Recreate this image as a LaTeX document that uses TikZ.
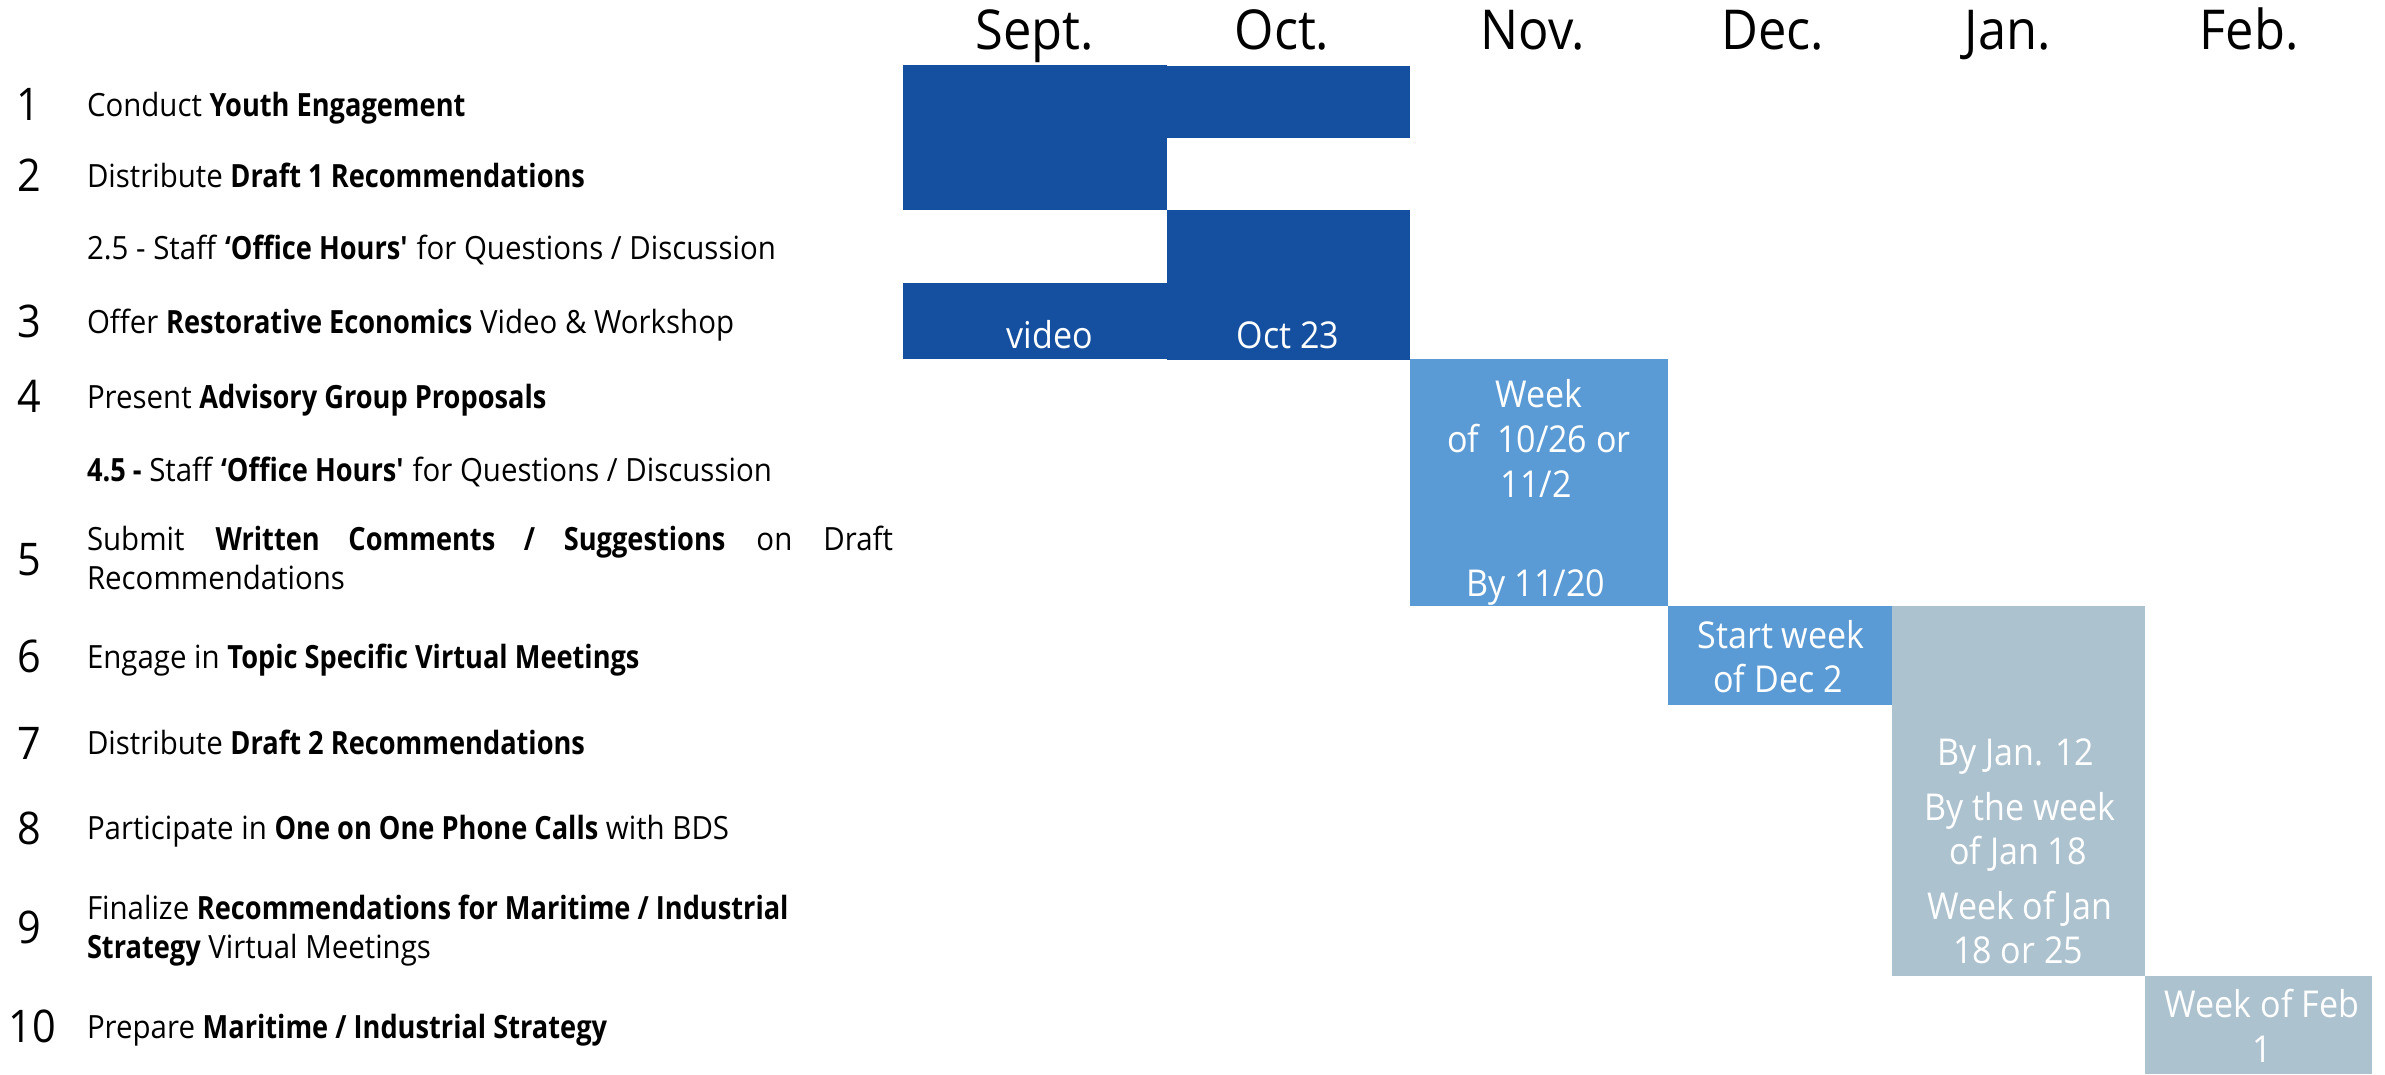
\documentclass[tikz,border=0pt]{standalone}
\usepackage{fontspec}
\setmainfont{Open Sans}[UprightFeatures={FakeStretch=0.92}, BoldFeatures={FakeStretch=0.85}]
\definecolor{dkblue}{RGB}{21,80,160}
\definecolor{mdblue}{RGB}{91,155,213}
\definecolor{gyblue}{RGB}{173,194,207}
\begin{document}
\begin{tikzpicture}[x=1pt,y=-1pt,
  every node/.style={inner sep=0pt, outer sep=0pt},
  task/.style={anchor=base west, font=\fontsize{32}{38}\selectfont},
  num/.style={anchor=base, font=\fontsize{45}{50}\selectfont},
  month/.style={anchor=base, font=\fontsize{55}{60}\selectfont},
  bar/.style={anchor=north west, draw=none},
  btext/.style={anchor=base, text=white, font=\fontsize{37}{45}\selectfont}]
\useasboundingbox[fill=white] (0,0) rectangle (2385,1074);

% month headers
\node[month] (msep) at (1035,49) {Sept.};
\node[month] (moct) at (1282,49) {Oct.};
\node[month] (mnov) at (1533,49) {Nov.};
\node[month] (mdec) at (1773,49) {Dec.};
\node[month] (mjan) at (2008,49) {Jan.};
\node[month] (mfeb) at (2249,49) {Feb.};

% bars
\node[bar, fill=dkblue, minimum width=264pt, minimum height=145pt] (bsep12) at (903,65) {};
\node[bar, fill=dkblue, minimum width=243pt, minimum height=72pt] (boct1) at (1167,66) {};
\node[bar, fill=dkblue, minimum width=243pt, minimum height=150pt] (boct3) at (1167,210) {};
\node[bar, fill=dkblue, minimum width=264pt, minimum height=76pt] (bsep3) at (903,283) {};
\node[bar, fill=mdblue, minimum width=258pt, minimum height=247pt] (bnov) at (1410,359) {};
\node[bar, fill=mdblue, minimum width=224pt, minimum height=99pt] (bdec) at (1668,606) {};
\node[bar, fill=gyblue, minimum width=253pt, minimum height=370pt] (bjan) at (1892,606) {};
\node[bar, fill=gyblue, minimum width=227pt, minimum height=98pt] (bfeb) at (2145,976) {};

% bar texts
\node[btext] (tvideo) at (1050,348) {video};
\node[btext] (toct) at (1288,348) {Oct 23};
\node[btext] (tnov1) at (1539,407) {Week};
\node[btext] (tnov2) at (1539,452) {of~ 10/26 or};
\node[btext] (tnov3) at (1536,497) {11/2};
\node[btext] (tnov4) at (1536,596) {By 11/20};
\node[btext] (tdec1) at (1781,648) {Start week};
\node[btext] (tdec2) at (1778,692) {of Dec 2};
\node[btext] (tjan1) at (2016,765) {By Jan. 12};
\node[btext] (tjan2) at (2020,820) {By the week};
\node[btext] (tjan3) at (2018,864) {of Jan 18};
\node[btext] (tjan4) at (2020,919) {Week of Jan};
\node[btext] (tjan5) at (2018,963) {18 or 25};
\node[btext] (tfeb1) at (2262,1017) {Week of Feb};
\node[btext] (tfeb2) at (2262,1062) {1};

% numbers
\node[num] (n1) at (28,120) {1};
\node[num] (n2) at (29,191) {2};
\node[num] (n3) at (29,337) {3};
\node[num] (n4) at (29,412) {4};
\node[num] (n5) at (29,575) {5};
\node[num] (n6) at (29,672) {6};
\node[num] (n7) at (29,759) {7};
\node[num] (n8) at (29,844) {8};
\node[num] (n9) at (29,943) {9};
\node[num] (n10) at (32,1042) {10};

% tasks
\node[task] (t1) at (87,116) {Conduct \textbf{Youth Engagement}};
\node[task] (t2) at (87,187) {Distribute \textbf{Draft 1 Recommendations}};
\node[task] (t25) at (87,259) {2.5 - Staff \textbf{‘Office Hours\textquotesingle} for Questions / Discussion};
\node[task] (t3) at (87,333) {Offer \textbf{Restorative Economics} Video \& Workshop};
\node[task] (t4) at (87,408) {Present \textbf{Advisory Group Proposals}};
\node[task] (t45) at (87,481) {\textbf{4.5 -} Staff \textbf{‘Office Hours\textquotesingle} for Questions / Discussion};
\node[task] (t5a) at (87,550) {\makebox[806pt][s]{Submit \textbf{Written Comments / Suggestions} on Draft}};
\node[task] (t5b) at (87,589) {Recommendations};
\node[task] (t6) at (87,668) {Engage in \textbf{Topic Specific Virtual Meetings}};
\node[task] (t7) at (87,754) {Distribute \textbf{Draft 2 Recommendations}};
\node[task] (t8) at (87,839) {Participate in \textbf{One on One Phone Calls} with BDS};
\node[task] (t9a) at (87,919) {Finalize \textbf{Recommendations for Maritime / Industrial}};
\node[task] (t9b) at (87,958) {\textbf{Strategy} Virtual Meetings};
\node[task] (t10) at (87,1038) {Prepare \textbf{Maritime / Industrial Strategy}};
\end{tikzpicture}
\end{document}
